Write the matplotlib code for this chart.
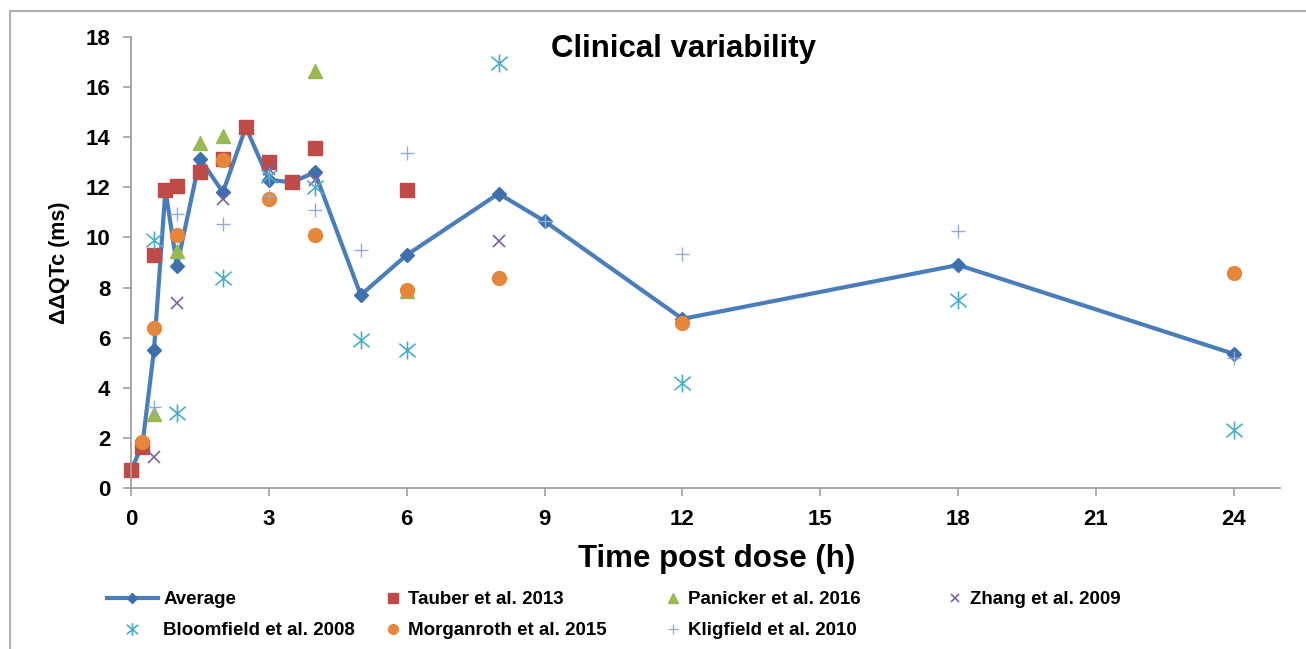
import matplotlib
matplotlib.use('Agg')
import matplotlib.pyplot as plt
from matplotlib.path import Path
from matplotlib.patches import Rectangle

plt.rcParams['font.family'] = ['Liberation Sans', 'DejaVu Sans']
plt.rcParams['font.weight'] = 'bold'

# Average over studies
avg_t = [0, 0.25, 0.5, 0.75, 1, 1.5, 2, 2.5, 3, 3.5, 4, 5, 6, 8, 9, 12, 18, 24]
avg_v = [0.7, 1.75, 5.5, 11.9, 8.85, 13.15, 11.8, 14.4, 12.3, 12.2, 12.6, 7.7, 9.3, 11.75, 10.65, 6.75, 8.9, 5.35]

# Individual studies
tauber_t = [0, 0.25, 0.5, 0.75, 1, 1.5, 2, 2.5, 3, 3.5, 4, 6]
tauber_v = [0.7, 1.65, 9.3, 11.9, 12.05, 12.6, 13.15, 14.4, 13.0, 12.2, 13.55, 11.9]

panicker_t = [0.5, 1, 1.5, 2, 4, 6]
panicker_v = [2.95, 9.45, 13.75, 14.05, 16.65, 7.85]

zhang_t = [0.5, 1, 2, 3, 4, 8]
zhang_v = [1.25, 7.4, 11.55, 12.75, 12.3, 9.85]

bloomfield_t = [0.5, 1, 2, 3, 4, 5, 6, 8, 12, 18, 24]
bloomfield_v = [9.9, 3.0, 8.4, 12.45, 12.0, 5.9, 5.5, 16.95, 4.2, 7.5, 2.3]

morganroth_t = [0.25, 0.5, 1, 2, 3, 4, 6, 8, 12, 24]
morganroth_v = [1.85, 6.4, 10.1, 13.1, 11.55, 10.1, 7.9, 8.4, 6.6, 8.6]

kligfield_t = [0.5, 1, 2, 3, 4, 5, 6, 9, 12, 18, 24]
kligfield_v = [3.25, 10.95, 10.55, 11.65, 11.1, 9.5, 13.35, 10.65, 9.35, 10.25, 5.2]

x_ticks = [0, 3, 6, 9, 12, 15, 18, 21, 24]
y_ticks = [0, 2, 4, 6, 8, 10, 12, 14, 16, 18]

# Excel style asterisk: vertical bar plus an X
star = Path([(0, -1), (0, 1), (-0.9, -0.75), (0.9, 0.75), (-0.9, 0.75), (0.9, -0.75)],
            [Path.MOVETO, Path.LINETO, Path.MOVETO, Path.LINETO, Path.MOVETO, Path.LINETO])

fig = plt.figure(figsize=(13.06, 6.49), dpi=100)
ax = fig.add_axes([0.1003, 0.2481, 0.8797, 0.6949])

h_avg, = ax.plot(avg_t, avg_v, color='#4A7EBB', lw=3, marker='D', ms=7,
                 mfc='#3F70AE', mec='#3F70AE', label='Average', clip_on=False)
h_tau, = ax.plot(tauber_t, tauber_v, ls='none', marker='s', ms=10, color='#BE4B48',
                 label='Tauber et al. 2013', clip_on=False)
h_pan, = ax.plot(panicker_t, panicker_v, ls='none', marker='^', ms=10, color='#98B954', label='Panicker et al. 2016')
h_zha, = ax.plot(zhang_t, zhang_v, ls='none', marker='x', ms=9, mew=1.2, color='#7D5FA0', label='Zhang et al. 2009')
h_blo, = ax.plot(bloomfield_t, bloomfield_v, ls='none', marker=star, ms=13, mew=1.2, mfc='none',
                 color='#4AACC5', label='Bloomfield et al. 2008')
h_mor, = ax.plot(morganroth_t, morganroth_v, ls='none', marker='o', ms=10, color='#E6863B', label='Morganroth et al. 2015')
h_kli, = ax.plot(kligfield_t, kligfield_v, ls='none', marker='+', ms=10, mew=1, color='#95ABD6', label='Kligfield et al. 2010')

ax.set_xlim(0, 25)
ax.set_ylim(0, 18)
ax.set_xticks(x_ticks)
ax.set_yticks(y_ticks)
ax.tick_params(direction='out', length=6, width=1.2, color='#A0A0A0', labelsize=16)
ax.tick_params(axis='y', pad=9)
ax.tick_params(axis='x', pad=9)
for s in ['top', 'right']:
    ax.spines[s].set_visible(False)
for s in ['left', 'bottom']:
    ax.spines[s].set_color('#A0A0A0')
    ax.spines[s].set_linewidth(1.3)

ax.set_xlabel('Time post dose (h)', fontsize=22.5, fontweight='bold')
ax.set_ylabel('ΔΔQTc (ms)', fontsize=15.5, fontweight='bold')
ax.xaxis.set_label_coords(0.51, -0.125)
ax.yaxis.set_label_coords(-0.053, 0.5)

fig.text(0.523, 0.912, 'Clinical variability', fontsize=22.5, fontweight='bold', ha='center', va='baseline')

# legend laid out as four separate columns (Excel grid)
columns = [([h_avg, h_blo], 107, 2.7), ([h_tau, h_mor], 383.6, 1.0),
           ([h_pan, h_kli], 663.6, 1.0), ([h_zha], 945.6, 1.0)]
for hs, x0, hl in columns:
    leg = fig.legend(handles=hs, labels=[h.get_label() for h in hs],
                     loc='upper left', bbox_to_anchor=(x0 / 1306, 1 - 591 / 649),
                     frameon=False, fontsize=13.5, handlelength=hl, handletextpad=0.29,
                     labelspacing=0.75, markerscale=0.7, borderpad=0, borderaxespad=0)

# grey border around the chart area
fig.patches.append(Rectangle((10 / 1306, -0.1), 1.2, 1.1 - 11 / 649, transform=fig.transFigure,
                             fill=False, edgecolor='#A0A0A0', lw=1.2))

fig.savefig('out.png', dpi=100)
